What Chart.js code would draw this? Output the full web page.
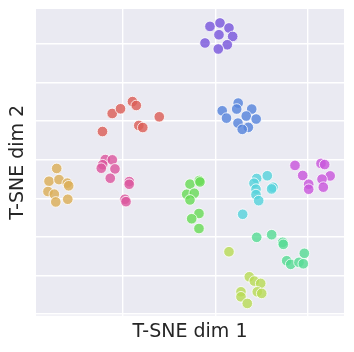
<!DOCTYPE html>
<html>
<head>
<meta charset="utf-8">
<script src="https://cdn.jsdelivr.net/npm/chart.js@4.4.1/dist/chart.umd.min.js"></script>
<style>
body { margin: 0; background: #fff; }
#wrap { width: 354px; height: 352px; position: relative; }
</style>
</head>
<body>
<div id="wrap"><canvas id="tsne"></canvas></div>
<script>
// cluster points, [x, y]
const red = [[-24.47, 8.66], [-22.36, 11.00], [-20.56, 11.61], [-17.96, 12.54], [-17.14, 12.04], [-16.59, 9.44], [-15.73, 9.18], [-12.15, 10.57]];
const orange = [[-34.40, 3.87], [-36.07, 2.21], [-33.90, 2.42], [-32.10, 1.96], [-31.80, 1.62], [-36.29, 0.87], [-34.92, 0.53], [-34.60, -0.48], [-32.00, -0.13]];
const lime = [[2.97, -6.94], [7.38, -10.19], [8.46, -10.75], [9.85, -11.05], [9.11, -12.14], [10.07, -12.35], [5.57, -12.14], [5.57, -12.79], [6.94, -13.65]];
const green = [[-5.49, 1.83], [-3.47, 2.31], [-3.32, 2.12], [-6.20, 0.52], [-4.56, 0.65], [-5.49, -0.22], [-3.54, -1.98], [-5.12, -2.66], [-3.54, -3.93]];
const mint = [[8.98, -5.07], [12.23, -4.73], [14.62, -5.72], [14.75, -5.98], [15.49, -8.11], [16.36, -8.58], [19.31, -7.15], [18.16, -8.32], [19.09, -8.50]];
const cyan = [[8.98, 2.57], [11.28, 2.92], [8.39, 1.95], [8.83, 1.18], [12.52, 1.43], [12.21, 1.21], [8.83, 0.47], [9.41, -0.31], [5.94, -2.08]];
const blue = [[1.50, 11.35], [2.43, 10.40], [4.97, 12.35], [4.64, 11.58], [7.90, 11.57], [6.72, 10.67], [8.87, 10.28], [4.92, 9.75], [7.16, 9.20], [5.84, 8.94]];
const purple = [[-1.15, 22.30], [1.02, 22.75], [2.97, 22.10], [0.80, 21.22], [3.77, 21.00], [-2.23, 20.15], [2.60, 19.92], [0.65, 19.37]];
const magenta = [[17.29, 4.26], [22.93, 4.52], [23.73, 4.37], [18.96, 2.96], [24.92, 2.90], [23.15, 2.48], [20.26, 1.82], [20.26, 1.17], [23.43, 1.44]];
const pink = [[-23.86, 5.02], [-22.34, 4.98], [-24.43, 4.35], [-24.73, 3.90], [-21.76, 3.81], [-22.78, 2.60], [-18.66, 2.16], [-18.68, 1.82], [-19.59, -0.13], [-19.37, -0.44]];

const clusters = [red, orange, lime, green, mint, cyan, blue, purple, magenta, pink];
// hls palette, 10 colours
const colors = ['#db5f57', '#dbae57', '#b9db57', '#69db57', '#57db94', '#57d3db', '#5784db', '#7957db', '#c957db', '#db579e'];

const xGrid = [-20, 0, 20];
const yGrid = [-15, -10, -5, 0, 5, 10, 15, 20];

const datasets = clusters.map((pts, i) => ({
  data: pts.map(p => ({ x: p[0], y: p[1] })),
  backgroundColor: colors[i] + 'd0',
  borderColor: '#ffffff',
  borderWidth: 0.8,
  pointRadius: 5.3,
  pointHoverRadius: 5.3
}));

const titleFont = { family: 'DejaVu Sans', size: 19 };

new Chart(document.getElementById('tsne'), {
  type: 'scatter',
  data: { datasets: datasets },
  options: {
    responsive: true,
    maintainAspectRatio: false,
    animation: false,
    layout: { padding: { top: 9, right: 10, left: 0, bottom: 0 } },
    plugins: {
      legend: { display: false },
      tooltip: { enabled: false }
    },
    scales: {
      x: {
        min: -38.89,
        max: 27.92,
        afterBuildTicks: s => { s.ticks = xGrid.map(v => ({ value: v })); },
        ticks: { display: false },
        grid: { color: '#ffffff', lineWidth: 1.4, drawTicks: false },
        border: { display: false },
        title: {
          display: true,
          text: 'T-SNE dim 1',
          color: '#262626',
          font: titleFont,
          padding: { top: 5, bottom: 8.6 }
        }
      },
      y: {
        min: -15.23,
        max: 24.56,
        afterBuildTicks: s => { s.ticks = yGrid.map(v => ({ value: v })); },
        ticks: { display: false },
        grid: { color: '#ffffff', lineWidth: 1.4, drawTicks: false },
        border: { display: false },
        title: {
          display: true,
          text: 'T-SNE dim 2',
          color: '#262626',
          font: titleFont,
          padding: { top: 6.6, bottom: 6.6 }
        }
      }
    }
  },
  plugins: [{
    id: 'bg',
    beforeDraw: chart => {
      const a = chart.chartArea;
      const ctx = chart.ctx;
      ctx.save();
      ctx.fillStyle = '#eaeaf2';
      ctx.fillRect(a.left, a.top, a.right - a.left, a.bottom - a.top);
      ctx.restore();
    }
  }]
});
</script>
</body>
</html>
